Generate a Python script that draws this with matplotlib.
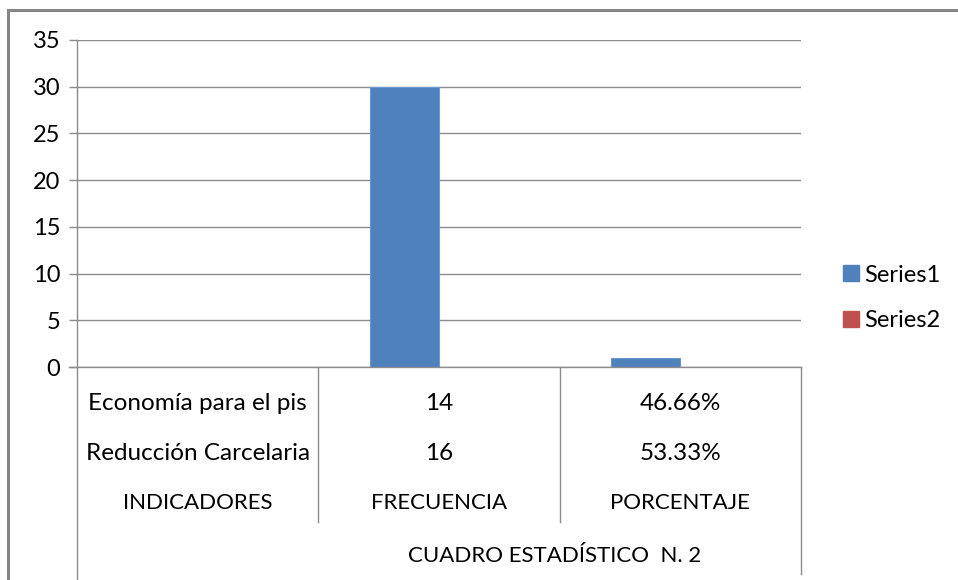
import matplotlib
matplotlib.use("Agg")
import matplotlib.pyplot as plt
from matplotlib.lines import Line2D
from matplotlib.patches import Patch
import numpy as np

plt.rcParams['font.family'] = ['Lato', 'DejaVu Sans']

categories = ["INDICADORES", "FRECUENCIA", "PORCENTAJE"]
row1_labels = ["Economía para el pis", "14", "46.66%"]
row2_labels = ["Reducción Carcelaria", "16", "53.33%"]
group_label = "CUADRO ESTADÍSTICO  N. 2"
series1 = [0, 30, 1]
series2 = [0, 0, 0]
series_names = ["Series1", "Series2"]
colors = ["#4F81BD", "#C0504D"]
yticks = [0, 5, 10, 15, 20, 25, 30, 35]

W, H = 958, 580
fig = plt.figure(figsize=(W / 100, H / 100), dpi=100)
fig.patch.set_facecolor("white")

ax_l, ax_r, ax_t, ax_b = 77, 801, 40, 367
ax = fig.add_axes([ax_l / W, 1 - ax_b / H, (ax_r - ax_l) / W, (ax_b - ax_t) / H])
axh = ax_b - ax_t
cw = (ax_r - ax_l) / 3.0

x = np.arange(len(categories))
bw = 0.286
ax.bar(x - bw / 2, series1, width=bw, color=colors[0], edgecolor="#6A98D0", linewidth=0.8, zorder=3)
ax.bar(x + bw / 2, series2, width=bw, color=colors[1], zorder=3)

ax.set_xlim(-0.5, 2.5)
ax.set_ylim(0, 35)
ax.set_yticks(yticks)
ax.yaxis.grid(True, color="#8C8C8C", linewidth=1.0, zorder=0)
ax.set_axisbelow(True)
ax.tick_params(axis="y", length=6, width=1, color="#8C8C8C", pad=6, labelsize=17, labelcolor="#000000")
ax.set_xticks([])
for s in ["top", "right", "bottom"]:
    ax.spines[s].set_visible(False)
ax.spines["left"].set_color("#8C8C8C")
ax.spines["left"].set_linewidth(1.0)

trans = ax.get_xaxis_transform()
ax.plot([-0.5 - 8 / cw, 2.5], [0, 0], transform=trans, color="#8C8C8C", lw=1.0, clip_on=False, zorder=4)

def fy(px_below):
    return -px_below / axh

for xs in [0.5, 1.5]:
    ax.plot([xs, xs], [0, fy(155)], transform=trans, color="#8C8C8C", lw=1.0, clip_on=False)
ax.plot([-0.5, -0.5], [0, fy(215)], transform=trans, color="#8C8C8C", lw=1.0, clip_on=False)
ax.plot([2.5, 2.5], [0, fy(207)], transform=trans, color="#8C8C8C", lw=1.0, clip_on=False)

for i in range(len(categories)):
    ax.text(x[i], fy(36), row1_labels[i], transform=trans, ha="center", va="center", fontsize=17.5)
    ax.text(x[i], fy(86), row2_labels[i], transform=trans, ha="center", va="center", fontsize=17.5)
    ax.text(x[i], fy(136), categories[i], transform=trans, ha="center", va="center", fontsize=16)
ax.text((555 - ax_l) / cw - 0.5, fy(189), group_label, transform=trans, ha="center", va="center", fontsize=16)

handles = [Patch(facecolor=colors[0], edgecolor=colors[0]), Patch(facecolor=colors[1], edgecolor=colors[1])]
fig.legend(handles, series_names, loc="center left", bbox_to_anchor=(843 / W, 1 - 298 / H),
           frameon=False, fontsize=17, handlelength=0.68, handleheight=0.68,
           handletextpad=0.2, labelspacing=1.05, borderpad=0, borderaxespad=0)

fig.add_artist(Line2D([8 / W, 8 / W], [0, 1 - 10 / H], transform=fig.transFigure, color="#868686", lw=2.2))
fig.add_artist(Line2D([8 / W, 1], [1 - 10 / H, 1 - 10 / H], transform=fig.transFigure, color="#868686", lw=2.2))

fig.savefig("out.png", dpi=100)
